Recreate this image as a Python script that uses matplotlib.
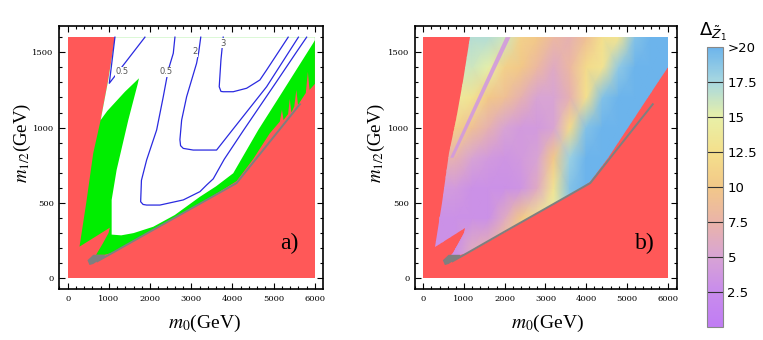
import numpy as np
import matplotlib.pyplot as plt
from matplotlib.patches import Polygon
from matplotlib.colors import LinearSegmentedColormap, Normalize
from matplotlib.cm import ScalarMappable
from matplotlib.ticker import MultipleLocator

plt.rcParams['mathtext.fontset'] = 'stix'
plt.rcParams['font.family'] = ['Liberation Serif', 'DejaVu Serif']

# --- datos (m0, m1/2 en GeV) ---
# borde izquierdo de la region permitida
izq_m0 = [1150, 980, 800, 620, 450, 287]
izq_m12 = [1600, 1310, 1050, 830, 500, 210]
# cunia excluida cerca del origen
cuna_m0 = [1024, 990, 850, 720, 690, 900]
cuna_m12 = [336, 300, 230, 170, 156, 156]
# borde inferior, panel b)
inf_b_m0 = [1100, 2000, 3000, 3600, 4100, 4543, 6000, 6000]
inf_b_m12 = [171, 310, 463, 555, 640, 796, 1404, 1600]
# borde inferior, panel a) (con picos)
inf_a_m0 = [1100, 2000, 3000, 3400, 4100, 4500, 4900, 5150, 5200, 5240, 5350, 5390,
            5430, 5500, 5550, 5590, 5780, 5830, 5870, 6000, 6000]
inf_a_m12 = [171, 310, 463, 525, 645, 790, 960, 1040, 1120, 1050, 1090, 1190,
             1100, 1140, 1250, 1150, 1230, 1370, 1250, 1290, 1600]
# zona blanca del panel a)
blanco_m0 = [1150, 980, 800, 960, 1390, 1730, 1700, 1471, 1188, 1067, 1067, 1300, 1600,
             2077, 2600, 3210, 3600, 4018, 4625, 5150, 5958, 6000, 6000]
blanco_m12 = [1600, 1310, 1050, 1110, 1238, 1327, 1290, 1050, 719, 520, 290, 285, 300,
              342, 420, 541, 610, 697, 984, 1210, 1560, 1580, 1600]
# mancha gris y linea gris
mancha_m0 = [480, 530, 620, 760, 900, 900, 620, 560]
mancha_m12 = [120, 88, 95, 120, 140, 156, 156, 140]
gris_m0 = [700, 1100, 2000, 3000, 3600, 4100, 5650]
gris_m12 = [110, 171, 310, 463, 555, 632, 1160]

# contornos (panel a)
c05a_m0 = [1147, 1010, 1875]
c05a_m12 = [1600, 1294, 1600]
c05b_m0 = [2603, 2563, 2441, 2320, 2159, 1916, 1790, 1771, 1830, 1916, 2239, 2805, 3210,
           3372, 3533, 3800, 4272, 5070, 5550, 5800]
c05b_m12 = [1600, 1493, 1382, 1205, 984, 785, 650, 508, 490, 486, 486, 520, 575,
            619, 660, 790, 984, 1305, 1500, 1600]
c2_m0 = [3230, 3180, 3129, 2887, 2766, 2724, 2740, 2805, 3047, 3614, 4000, 4828, 5600]
c2_m12 = [1600, 1500, 1427, 1205, 1050, 920, 880, 862, 851, 851, 985, 1271, 1600]
c3_m0 = [3775, 3720, 3678, 3720, 3775, 4018, 4343, 4665, 4828, 5352]
c3_m12 = [1600, 1450, 1271, 1240, 1238, 1238, 1261, 1316, 1382, 1600]
etiquetas = ["0.5", "0.5", "2", "3"]
etiq_m0 = [1310, 2380, 3093, 3775]
etiq_m12 = [1371, 1371, 1504, 1560]

# Delta Z1 (panel b) en una malla gruesa
malla_m0 = [0, 400, 800, 1200, 1600, 2000, 2400, 2800, 3200, 3600, 4000, 4400, 4800, 5200, 5600, 6000]
malla_m12 = [0, 200, 400, 600, 800, 1000, 1200, 1400, 1600]
delta = [
    [3, 3, 3, 6, 7, 10, 13, 15, 17, 19, 20, 20, 20, 20, 20, 20],
    [3, 3, 3, 6, 7, 10, 13, 15, 17, 19, 20, 20, 20, 20, 20, 20],
    [3, 3, 3, 3, 3, 6, 10, 13, 15, 18, 20, 20, 20, 20, 20, 20],
    [4, 4, 4, 3, 3, 3, 3.5, 6, 13, 19, 20, 20, 20, 20, 20, 20],
    [7, 7, 7, 5, 4, 3.5, 4, 5, 10, 18, 20, 20, 20, 20, 20, 20],
    [11, 11, 11, 9, 7, 5, 4, 4, 5, 12, 19, 20, 20, 20, 20, 20],
    [14, 14, 14, 13, 10, 9, 7, 5, 5, 7, 12.5, 19, 20, 20, 20, 20],
    [16, 16, 16, 16, 15, 11, 10, 8, 6, 8, 12, 13, 18.5, 20, 20, 20],
    [17, 17, 17, 17, 17, 16, 11, 10, 8, 7, 9, 12.5, 13, 19, 20, 20],
]
franja_m0 = [660, 740, 2140, 2020]
franja_m12 = [800, 800, 1600, 1600]
franja_delta = 4

niveles = [0, 2.5, 5, 7.5, 10, 12.5, 15, 17.5, 20]
colores = ['#c07cf4', '#c88cec', '#d8a4d4', '#eab4a8', '#f2c888', '#f4e08c',
           '#e8f0a8', '#a8d8e0', '#6cb4ec']

ROJO = '#ff5858'
VERDE = '#00ee00'
GRIS = '#7f7f7f'

cmap = LinearSegmentedColormap.from_list('dz', list(zip(np.array(niveles) / 20, colores)))
norm = Normalize(0, 20)

fig = plt.figure(figsize=(7.63, 3.40), dpi=100)
ax_a = fig.add_axes([0.0777, 0.1491, 0.3452, 0.7744])
ax_b = fig.add_axes([0.5439, 0.1491, 0.3438, 0.7744])


def poly(ax, xs, ys, **kw):
    p = Polygon(np.column_stack([xs, ys]), closed=True, **kw)
    ax.add_patch(p)
    return p


def contorno_permitido(inf_m0, inf_m12):
    xs = izq_m0 + cuna_m0 + inf_m0
    ys = izq_m12 + cuna_m12 + inf_m12
    return xs, ys


for ax in (ax_a, ax_b):
    poly(ax, [0, 6000, 6000, 0], [0, 0, 1600, 1600], facecolor=ROJO, edgecolor='none')

# panel a)
xs, ys = contorno_permitido(inf_a_m0, inf_a_m12)
poly(ax_a, xs, ys, facecolor=VERDE, edgecolor='none')
poly(ax_a, blanco_m0, blanco_m12, facecolor='white', edgecolor='none')
for cx, cy in [(c05a_m0, c05a_m12), (c05b_m0, c05b_m12), (c2_m0, c2_m12), (c3_m0, c3_m12)]:
    ax_a.plot(cx, cy, color='#2a2ae0', lw=0.9)
for t, x, y in zip(etiquetas, etiq_m0, etiq_m12):
    ax_a.text(x, y, t, fontsize=6, color='#555555', ha='center', va='center',
              family='DejaVu Sans',
              bbox=dict(facecolor='white', edgecolor='none', pad=0.3))

# panel b)
xs, ys = contorno_permitido(inf_b_m0, inf_b_m12)
clip = poly(ax_b, xs, ys, facecolor='none', edgecolor='none')
malla = ax_b.pcolormesh(malla_m0, malla_m12, np.array(delta), cmap=cmap, norm=norm,
                        shading='gouraud')
malla.set_clip_path(clip)
fr = poly(ax_b, franja_m0, franja_m12, facecolor=cmap(norm(franja_delta)),
          edgecolor='none', alpha=0.9)
fr.set_clip_path(clip)

for ax in (ax_a, ax_b):
    poly(ax, mancha_m0, mancha_m12, facecolor=GRIS, edgecolor='none')
    ax.plot(gris_m0, gris_m12, color=GRIS, lw=1.4, solid_capstyle='butt')

ax_a.set_xlim(-204, 6189)
ax_b.set_xlim(-204, 6238)
for ax in (ax_a, ax_b):
    ax.set_ylim(-73, 1674)
    ax.xaxis.set_major_locator(MultipleLocator(1000))
    ax.xaxis.set_minor_locator(MultipleLocator(200))
    ax.yaxis.set_major_locator(MultipleLocator(500))
    ax.yaxis.set_minor_locator(MultipleLocator(100))
    ax.tick_params(which='both', direction='in', top=True, right=True, width=0.8,
                   labelsize=6, pad=4)
    ax.tick_params(which='major', length=4)
    ax.tick_params(which='minor', length=2.4)
    for s in ax.spines.values():
        s.set_linewidth(1.2)
    for lab in ax.get_xticklabels() + ax.get_yticklabels():
        lab.set_family('DejaVu Serif')

fig.text(0.268, 0.05, r'$m_0$(GeV)', fontsize=14, ha='center', va='center')
fig.text(0.718, 0.05, r'$m_0$(GeV)', fontsize=14, ha='center', va='center')
fig.text(0.029, 0.58, r'$m_{1/2}$(GeV)', fontsize=13.5, ha='center', va='center', rotation=90)
fig.text(0.494, 0.58, r'$m_{1/2}$(GeV)', fontsize=13.5, ha='center', va='center', rotation=90)
ax_a.text(5390, 230, 'a)', fontsize=17, ha='center', va='center')
ax_b.text(5440, 230, 'b)', fontsize=17, ha='center', va='center')

# barra de color
cax = fig.add_axes([0.9262, 0.0391, 0.02176, 0.8235])
cb = fig.colorbar(ScalarMappable(norm=norm, cmap=cmap), cax=cax)
cb.set_ticks(niveles[1:])
cb.set_ticklabels(['2.5', '5', '7.5', '10', '12.5', '15', '17.5', '>20'])
cb.outline.set_edgecolor('#888888')
cb.outline.set_linewidth(0.8)
cax.tick_params(length=0, labelsize=9.5, pad=3)
for lab in cax.get_yticklabels():
    lab.set_family('DejaVu Sans')
for v in niveles[1:-1]:
    cax.axhline(v, color='#333333', lw=0.8)
fig.text(0.934, 0.905, r'$\Delta_{\tilde{Z}_1}$', fontsize=13, ha='center', va='center',
         math_fontfamily='dejavusans')

fig.savefig('out.png', dpi=100)
